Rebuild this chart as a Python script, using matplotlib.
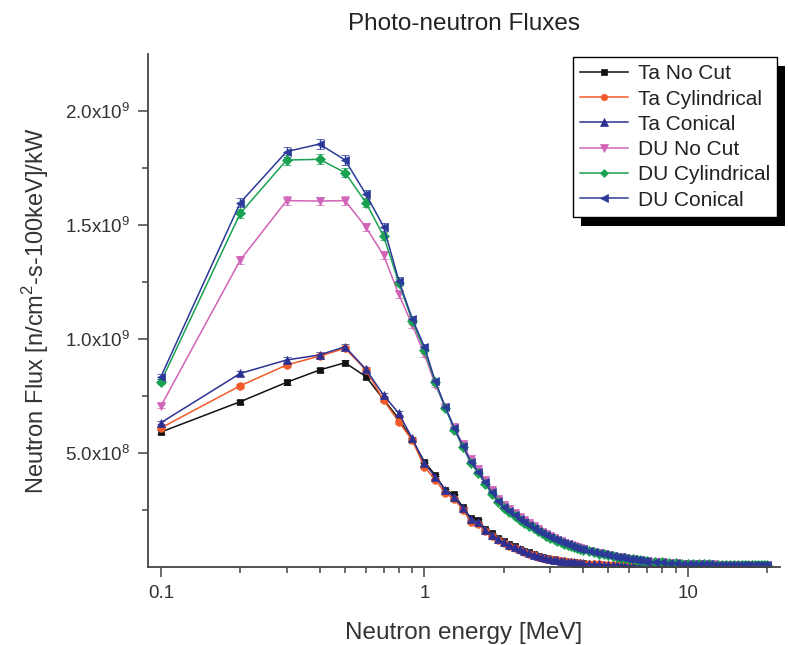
import numpy as np
import matplotlib
matplotlib.use("Agg")
import matplotlib.pyplot as plt
from matplotlib.patches import Rectangle
from matplotlib.transforms import IdentityTransform
from matplotlib.ticker import FixedLocator, FixedFormatter, NullFormatter

plt.rcParams['font.family'] = ['Liberation Sans', 'DejaVu Sans']
plt.rcParams['mathtext.fontset'] = 'custom'
plt.rcParams['mathtext.rm'] = 'Liberation Sans'

# energy bins [MeV]
energy = [0.1, 0.2, 0.3, 0.4, 0.5, 0.6, 0.7, 0.8, 0.9, 1.0,
          1.1, 1.2, 1.3, 1.4, 1.5, 1.6, 1.7, 1.8, 1.9, 2.0,
          2.1, 2.2, 2.3, 2.4, 2.5, 2.6, 2.7, 2.8, 2.9, 3.0,
          3.1, 3.2, 3.3, 3.4, 3.5, 3.6, 3.7, 3.8, 3.9, 4.0,
          4.2, 4.4, 4.6, 4.8, 5.0, 5.2, 5.4, 5.6, 5.8, 6.0, 6.2, 6.4, 6.6, 6.8, 7.0,
          7.5, 8.0, 8.5, 9.0, 9.5, 10.0, 10.5, 11.0, 11.5, 12.0, 12.5, 13.0, 13.5,
          14.0, 14.5, 15.0, 15.5, 16.0, 16.5, 17.0, 17.5, 18.0, 18.5, 19.0, 19.5, 20.0]

# fluxes in units of 1e9 n/cm2-s-100keV/kW
ta_nocut = [0.592, 0.725, 0.810, 0.864, 0.896, 0.835, 0.735, 0.650, 0.557, 0.462,
            0.403, 0.338, 0.318, 0.262, 0.216, 0.206, 0.168, 0.148, 0.128, 0.113,
            0.101, 0.090, 0.081, 0.072, 0.064, 0.056, 0.050, 0.045, 0.040, 0.036,
            0.033, 0.030, 0.028, 0.026, 0.024, 0.022, 0.020, 0.019, 0.017, 0.016,
            0.014, 0.013, 0.012, 0.010, 0.009, 0.008, 0.008, 0.007, 0.006, 0.006, 0.005, 0.005, 0.005, 0.004, 0.004,
            0.004, 0.003, 0.003, 0.003, 0.003, 0.003, 0.003, 0.003, 0.003, 0.003, 0.003, 0.002, 0.002,
            0.002, 0.002, 0.002, 0.002, 0.002, 0.002, 0.002, 0.002, 0.002, 0.002, 0.002, 0.002, 0.002]

ta_cyl = [0.610, 0.795, 0.886, 0.925, 0.959, 0.864, 0.732, 0.637, 0.555, 0.440,
          0.382, 0.325, 0.297, 0.252, 0.199, 0.190, 0.158, 0.138, 0.118, 0.104,
          0.094, 0.084, 0.075, 0.067, 0.059, 0.052, 0.046, 0.041, 0.037, 0.034,
          0.031, 0.029, 0.027, 0.025, 0.023, 0.021, 0.019, 0.018, 0.016, 0.015,
          0.013, 0.012, 0.011, 0.010, 0.009, 0.008, 0.007, 0.007, 0.006, 0.005, 0.005, 0.005, 0.004, 0.004, 0.004,
          0.003, 0.003, 0.003, 0.003, 0.003, 0.003, 0.003, 0.003, 0.003, 0.002, 0.002, 0.002, 0.002,
          0.002, 0.002, 0.002, 0.002, 0.002, 0.002, 0.002, 0.002, 0.002, 0.002, 0.002, 0.002, 0.002]

ta_con = [0.633, 0.849, 0.908, 0.930, 0.966, 0.867, 0.754, 0.674, 0.564, 0.455,
          0.396, 0.338, 0.305, 0.260, 0.210, 0.196, 0.163, 0.142, 0.122, 0.108,
          0.097, 0.087, 0.078, 0.069, 0.061, 0.054, 0.048, 0.043, 0.039, 0.035,
          0.032, 0.030, 0.028, 0.026, 0.024, 0.022, 0.020, 0.019, 0.017, 0.016,
          0.014, 0.013, 0.012, 0.010, 0.009, 0.008, 0.008, 0.007, 0.006, 0.006, 0.005, 0.005, 0.005, 0.004, 0.004,
          0.004, 0.003, 0.003, 0.003, 0.003, 0.003, 0.003, 0.003, 0.003, 0.003, 0.003, 0.002, 0.002,
          0.002, 0.002, 0.002, 0.002, 0.002, 0.002, 0.002, 0.002, 0.002, 0.002, 0.002, 0.002, 0.002]

du_nocut = [0.706, 1.346, 1.607, 1.605, 1.607, 1.490, 1.368, 1.196, 1.061, 0.934,
            0.800, 0.702, 0.612, 0.538, 0.472, 0.428, 0.382, 0.338, 0.300, 0.272,
            0.254, 0.236, 0.220, 0.204, 0.191, 0.178, 0.166, 0.155, 0.145, 0.136,
            0.128, 0.120, 0.113, 0.107, 0.101, 0.096, 0.091, 0.086, 0.082, 0.078,
            0.072, 0.066, 0.061, 0.057, 0.053, 0.049, 0.046, 0.042, 0.040, 0.037, 0.035, 0.032, 0.030, 0.028, 0.027,
            0.023, 0.021, 0.018, 0.017, 0.015, 0.014, 0.013, 0.012, 0.012, 0.011, 0.011, 0.010, 0.010,
            0.010, 0.009, 0.009, 0.009, 0.009, 0.009, 0.008, 0.008, 0.008, 0.008, 0.008, 0.008, 0.007]

du_cyl = [0.813, 1.551, 1.785, 1.788, 1.730, 1.598, 1.452, 1.247, 1.079, 0.952,
          0.810, 0.698, 0.603, 0.526, 0.458, 0.412, 0.366, 0.322, 0.286, 0.258,
          0.241, 0.225, 0.208, 0.193, 0.180, 0.169, 0.157, 0.147, 0.138, 0.129,
          0.122, 0.115, 0.108, 0.102, 0.097, 0.092, 0.087, 0.083, 0.079, 0.075,
          0.069, 0.064, 0.059, 0.055, 0.051, 0.047, 0.044, 0.041, 0.038, 0.036, 0.033, 0.031, 0.029, 0.027, 0.026,
          0.022, 0.020, 0.018, 0.016, 0.014, 0.013, 0.012, 0.012, 0.011, 0.011, 0.010, 0.010, 0.009,
          0.009, 0.009, 0.009, 0.009, 0.008, 0.008, 0.008, 0.008, 0.008, 0.008, 0.008, 0.007, 0.007]

du_con = [0.835, 1.598, 1.822, 1.855, 1.785, 1.635, 1.493, 1.256, 1.088, 0.966,
          0.815, 0.703, 0.608, 0.531, 0.462, 0.418, 0.372, 0.328, 0.290, 0.262,
          0.246, 0.228, 0.212, 0.196, 0.184, 0.172, 0.160, 0.150, 0.140, 0.132,
          0.124, 0.117, 0.110, 0.104, 0.099, 0.094, 0.089, 0.084, 0.080, 0.077,
          0.071, 0.065, 0.060, 0.056, 0.052, 0.048, 0.045, 0.042, 0.039, 0.036, 0.034, 0.032, 0.030, 0.028, 0.026,
          0.023, 0.020, 0.018, 0.016, 0.015, 0.013, 0.012, 0.012, 0.011, 0.011, 0.010, 0.010, 0.010,
          0.009, 0.009, 0.009, 0.009, 0.009, 0.008, 0.008, 0.008, 0.008, 0.008, 0.008, 0.008, 0.007]

labels = ['Ta No Cut', 'Ta Cylindrical', 'Ta Conical',
          'DU No Cut', 'DU Cylindrical', 'DU Conical']
series = [ta_nocut, ta_cyl, ta_con, du_nocut, du_cyl, du_con]
colors = ['#111111', '#f15a29', '#2e3192', '#d163b8', '#1aa152', '#2b3a98']
markers = ['s', 'o', '^', 'v', 'D', '<']
msizes = [5, 5.5, 6, 6, 4.8, 6]
rel_err = 0.012  # relative statistical uncertainty shown as error bars

fig = plt.figure(figsize=(7.88, 6.45), dpi=100)
ax = fig.add_axes([148 / 788, 1 - 567 / 645, (780 - 148) / 788, (567 - 54) / 645])
ax.patch.set_visible(False)

x = np.array(energy)
handles = []
for y, lab, c, m, ms in zip(series, labels, colors, markers, msizes):
    y = np.array(y) * 1e9
    eb = ax.errorbar(x, y, yerr=y * rel_err, color=c, marker=m, ms=ms, lw=1.1,
                     elinewidth=1.0, capsize=3.2, capthick=1.0, label=lab,
                     markeredgewidth=0.5)
    handles.append(eb.lines[0])

ax.set_xscale('log')
ax.set_xlim(0.0893, 22.4)
ax.set_ylim(0, 2.25e9)

for s in ['top', 'right']:
    ax.spines[s].set_visible(False)
for s in ['left', 'bottom']:
    ax.spines[s].set_color('#444444')
    ax.spines[s].set_linewidth(1.3)

ax.xaxis.set_major_locator(FixedLocator([0.1, 1, 10]))
ax.xaxis.set_major_formatter(FixedFormatter(['0.1', '1', '10']))
ax.xaxis.set_minor_locator(FixedLocator([0.2, 0.3, 0.4, 0.5, 0.6, 0.7, 0.8, 0.9,
                                         2, 3, 4, 5, 6, 7, 8, 9, 20]))
ax.xaxis.set_minor_formatter(NullFormatter())

ax.yaxis.set_major_locator(FixedLocator([0.5e9, 1.0e9, 1.5e9, 2.0e9]))
ax.yaxis.set_major_formatter(FixedFormatter([r'5.0x10$^\mathregular{8}$', r'1.0x10$^\mathregular{9}$',
                                             r'1.5x10$^\mathregular{9}$', r'2.0x10$^\mathregular{9}$']))
ax.yaxis.set_minor_locator(FixedLocator([0.25e9, 0.75e9, 1.25e9, 1.75e9]))

ax.tick_params(which='major', direction='out', length=7, width=1.1, color='#444444',
               labelsize=13.5, labelcolor='#333333', pad=6)
ax.tick_params(which='minor', direction='out', length=4, width=1.1, color='#444444')

ax.set_xlabel('Neutron energy [MeV]', fontsize=17.5, color='#333333', labelpad=14)
ax.set_ylabel(r'Neutron Flux [n/cm$^\mathregular{2}$-s-100keV]/kW', fontsize=17,
              color='#333333', labelpad=10)
ax.set_title('Photo-neutron Fluxes', fontsize=17.5, color='#222222', pad=17)

leg = ax.legend(handles, labels, loc='upper left', bbox_to_anchor=(573 / 788, 1 - 57 / 645),
                bbox_transform=fig.transFigure, fontsize=15, frameon=True,
                fancybox=False, edgecolor='black', framealpha=1,
                handlelength=2.3, labelspacing=0.3, borderpad=0.35,
                handletextpad=0.45, borderaxespad=0, markerscale=0.85)
leg.get_frame().set_linewidth(1.0)
for t in leg.get_texts():
    t.set_color('#222222')

# drop shadow behind the legend box
fig.canvas.draw()
bb = leg.get_window_extent()
shadow = Rectangle((bb.x0 + 8, bb.y0 - 9), bb.width, bb.height,
                   transform=IdentityTransform(), facecolor='black',
                   edgecolor='none', zorder=-1)
fig.add_artist(shadow)

fig.savefig('out.png', dpi=100)
